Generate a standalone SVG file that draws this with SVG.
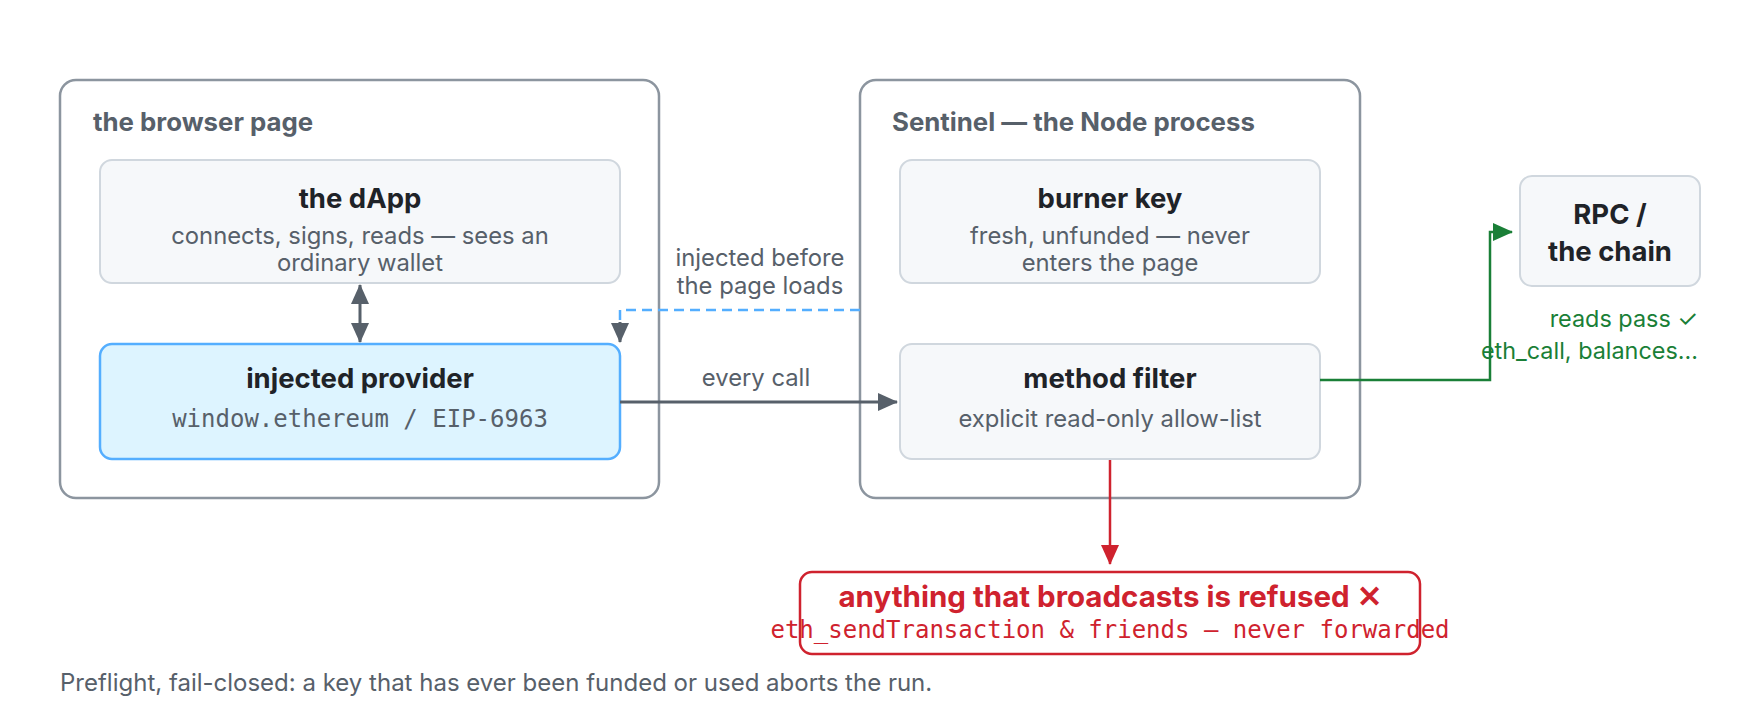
<svg xmlns="http://www.w3.org/2000/svg" width="1760" height="720" viewBox="0 0 1760 720">
<style>
text{font-family:Inter,"Noto Sans","Liberation Sans",sans-serif}
.outer{fill:#ffffff;stroke:#8c959f;stroke-width:2.5}
.inner{fill:#f6f8fa;stroke:#d0d7de;stroke-width:2}
.prov{fill:#ddf4ff;stroke:#54aeff;stroke-width:2.5}
.refused{fill:#ffffff;stroke:#cf222e;stroke-width:2.5}
.label{font-size:25.8px;font-weight:700;fill:#57606a}
.title{font-size:27.5px;font-weight:700;fill:#1f2328;text-anchor:middle}
.body{font-size:23.8px;fill:#57606a;text-anchor:middle}
.mono{font-family:"DejaVu Sans Mono","Liberation Mono",monospace;font-size:24px;text-anchor:middle}
.edge{fill:none;stroke:#57606a;stroke-width:3}
.green{fill:none;stroke:#1a7f37;stroke-width:2.5}
.red{fill:none;stroke:#cf222e;stroke-width:2.5}
.dash{fill:none;stroke:#54aeff;stroke-width:2.5;stroke-dasharray:10 6}
.elabel{font-size:23.8px;fill:#57606a;text-anchor:middle}
.glabel{font-size:23.4px;fill:#1a7f37;text-anchor:end}
</style>
<defs>
<marker id="ah" markerUnits="userSpaceOnUse" markerWidth="20" markerHeight="18" refX="19" refY="9" orient="auto-start-reverse"><path d="M0,0 L20,9 L0,18 Z" fill="#57606a"/></marker>
<marker id="ahg" markerUnits="userSpaceOnUse" markerWidth="20" markerHeight="18" refX="19" refY="9" orient="auto"><path d="M0,0 L20,9 L0,18 Z" fill="#1a7f37"/></marker>
<marker id="ahr" markerUnits="userSpaceOnUse" markerWidth="20" markerHeight="18" refX="19" refY="9" orient="auto"><path d="M0,0 L20,9 L0,18 Z" fill="#cf222e"/></marker>
</defs>
<rect width="1760" height="720" fill="#ffffff"/>

<g id="browser-page">
<rect class="outer" x="60" y="80" width="599" height="418" rx="16"/>
<text class="label" x="93" y="131">the browser page</text>
</g>

<g id="sentinel">
<rect class="outer" x="860" y="80" width="500" height="418" rx="16"/>
<text class="label" x="892" y="131">Sentinel — the Node process</text>
</g>

<g id="dapp">
<rect class="inner" x="100" y="160" width="520" height="123" rx="12"/>
<text class="title" x="360" y="208">the dApp</text>
<text class="body" x="360" y="244">connects, signs, reads — sees an</text>
<text class="body" x="360" y="271">ordinary wallet</text>
</g>

<g id="injected-provider">
<rect class="prov" x="100" y="344" width="520" height="115" rx="12"/>
<text class="title" x="360" y="388">injected provider</text>
<text class="mono" x="360" y="427" fill="#57606a">window.ethereum / EIP-6963</text>
</g>

<g id="burner-key">
<rect class="inner" x="900" y="160" width="420" height="123" rx="12"/>
<text class="title" x="1110" y="208">burner key</text>
<text class="body" x="1110" y="244">fresh, unfunded — never</text>
<text class="body" x="1110" y="271">enters the page</text>
</g>

<g id="method-filter">
<rect class="inner" x="900" y="344" width="420" height="115" rx="12"/>
<text class="title" x="1110" y="388">method filter</text>
<text class="body" x="1110" y="427">explicit read-only allow-list</text>
</g>

<g id="rpc">
<rect class="inner" x="1520" y="176" width="180" height="110" rx="12"/>
<text class="title" x="1610" y="224">RPC /</text>
<text class="title" x="1610" y="261">the chain</text>
</g>

<g id="refused">
<rect class="refused" x="800" y="572" width="620" height="82" rx="12"/>
<text class="title" x="1110" y="607" style="fill:#cf222e;font-size:29.5px">anything that broadcasts is refused ✕</text>
<text class="mono" x="1110" y="638" fill="#cf222e">eth_sendTransaction &amp; friends — never forwarded</text>
</g>

<g id="connectors">
<path class="edge" d="M360,285 L360,342" marker-start="url(#ah)" marker-end="url(#ah)"/>
<path class="dash" d="M860,310 L620,310 L620,326"/>
<path class="edge" d="M620,322 L620,342" stroke-width="0" marker-end="url(#ah)"/>
<path class="edge" d="M620,402 L897,402" marker-end="url(#ah)"/>
<path class="green" d="M1320,380 L1490,380 L1490,232 L1512,232" marker-end="url(#ahg)"/>
<path class="red" d="M1110,460 L1110,564" marker-end="url(#ahr)"/>
<text class="elabel" x="760" y="266">injected before</text>
<text class="elabel" x="760" y="294">the page loads</text>
<text class="elabel" x="756" y="386">every call</text>
<text class="glabel" x="1698" y="327">reads pass ✓</text>
<text class="glabel" x="1698" y="359">eth_call, balances…</text>
</g>

<text x="60" y="691" font-size="24" fill="#57606a">Preflight, fail-closed: a key that has ever been funded or used aborts the run.</text>
</svg>
